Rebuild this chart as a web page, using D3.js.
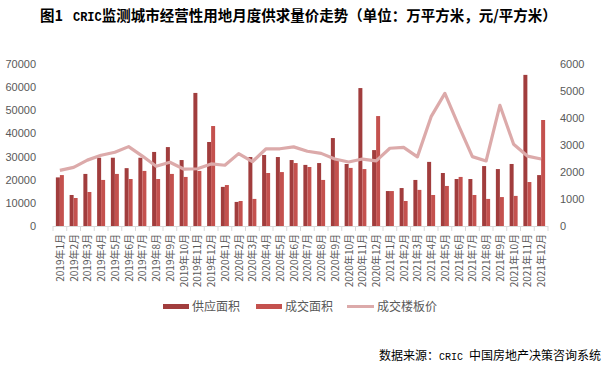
<!DOCTYPE html>
<html><head><meta charset="utf-8">
<script src="https://cdn.jsdelivr.net/npm/d3@7/dist/d3.min.js"></script>
<style>body{margin:0;background:#fff}svg{display:block}</style>
</head><body><svg id="c" width="608" height="374"></svg>
<script>
const months = [];
[2019,2020,2021].forEach(y=>{for(let m=1;m<=12;m++)months.push(y+"年"+m+"月");});
const supply = [21000,13400,22500,29500,29500,25000,29500,32000,34100,28500,57500,36300,
  16900,10400,29800,30700,29800,28500,26400,27200,38000,26800,59600,32800,
  15100,16400,19900,27700,22900,20300,20300,25900,24600,26800,65300,22000];
const deal = [22000,12100,14700,19900,22500,20300,23800,20300,22500,21200,23800,43200,
  17700,10800,11700,22900,23300,27200,25500,19900,28500,25100,24600,47500,
  15100,10800,15600,13400,17300,21200,13400,11700,12500,13000,19000,45800];
const price = [2060,2170,2440,2620,2730,2940,2590,2210,2360,2110,2120,2300,
  2250,2680,2380,2860,2860,2930,2770,2690,2480,2370,2480,2410,
  2880,2910,2560,4050,4910,3720,2570,2410,4470,3030,2590,2480];
const leftTicks = [0,10000,20000,30000,40000,50000,60000,70000];
const rightTicks = [0,1000,2000,3000,4000,5000,6000];
const legendNames = ["供应面积","成交面积","成交楼板价"];

const svg = d3.select("#c");
const L=53,R=548,T=64,B=226;
const x = d3.scaleBand().domain(months).range([L,R]);
const sub = d3.scaleBand().domain(["s","d"]).range([0,8]);
const yL = d3.scaleLinear().domain([0,70000]).range([B,T]);
const yR = d3.scaleLinear().domain([0,6000]).range([B,T]);
const cSup="#a13d3d", cDeal="#c4514e", cLine="#dcaaaa";
const off = (x.bandwidth()-8)/2;

const title = svg.append("text").attr("x",40).attr("y",21)
  .attr("font-family","'Noto Sans CJK SC'").attr("font-weight","bold").attr("font-size",14.5).attr("fill","#000");
title.append("tspan").text("图1\u00a0\u00a0\u00a0");
title.append("tspan").attr("font-family","'Liberation Mono'").attr("font-size",12).text("CRIC");
title.append("tspan").text("监测城市经营性用地月度供求量价走势（单位：万平方米，元/平方米）");

svg.append("g").selectAll("rect").data(months).join("rect")
  .attr("x",(d)=>x(d)+off+sub("s")).attr("width",sub.bandwidth())
  .attr("y",(d,i)=>yL(supply[i])).attr("height",(d,i)=>B-yL(supply[i])).attr("fill",cSup);
svg.append("g").selectAll("rect").data(months).join("rect")
  .attr("x",(d)=>x(d)+off+sub("d")).attr("width",sub.bandwidth())
  .attr("y",(d,i)=>yL(deal[i])).attr("height",(d,i)=>B-yL(deal[i])).attr("fill",cDeal);

svg.append("path").datum(price)
  .attr("d",d3.line().x((d,i)=>x(months[i])+x.bandwidth()/2).y(d=>yR(d)))
  .attr("fill","none").attr("stroke",cLine).attr("stroke-width",3.2).attr("stroke-linejoin","round");

// axes
const gx = svg.append("g");
gx.append("line").attr("x1",L).attr("x2",R).attr("y1",B+0.5).attr("y2",B+0.5).attr("stroke","#d9d9d9");
gx.selectAll("line.t").data(months.concat(["end"])).join("line").attr("class","t")
  .attr("x1",d=>d==="end"?R:x(d)).attr("x2",d=>d==="end"?R:x(d)).attr("y1",B).attr("y2",B+5).attr("stroke","#d9d9d9");
gx.selectAll("text").data(months).join("text")
  .attr("transform",d=>`translate(${x(d)+x.bandwidth()/2+4},${B+8}) rotate(-90)`)
  .attr("text-anchor","end").attr("font-family","'Noto Sans CJK SC'").attr("font-size",10).attr("fill","#595959")
  .text(d=>d);

svg.append("g").attr("transform",`translate(${L-14},0)`)
  .call(d3.axisLeft(yL).tickValues(leftTicks).tickSize(0).tickFormat(d3.format("d")))
  .call(g=>g.select(".domain").remove())
  .call(g=>g.selectAll("text").attr("font-family","'Liberation Sans'").attr("font-size",11).attr("fill","#595959"));
svg.append("g").attr("transform",`translate(${R+9},0)`)
  .call(d3.axisRight(yR).tickValues(rightTicks).tickSize(0).tickFormat(d3.format("d")))
  .call(g=>g.select(".domain").remove())
  .call(g=>g.selectAll("text").attr("font-family","'Liberation Sans'").attr("font-size",11).attr("fill","#595959"));

// legend
const lg = svg.append("g").attr("font-family","'Noto Sans CJK SC'").attr("font-size",12).attr("fill","#595959");
const lx=[163,256,347];
[cSup,cDeal].forEach((c,i)=>{
  lg.append("rect").attr("x",lx[i]).attr("y",304).attr("width",26).attr("height",5).attr("fill",c);
});
lg.append("line").attr("x1",lx[2]).attr("x2",lx[2]+27).attr("y1",306.5).attr("y2",306.5).attr("stroke",cLine).attr("stroke-width",3);
legendNames.forEach((n,i)=>{
  lg.append("text").attr("x",lx[i]+(i==2?30:29)).attr("y",311).text(n);
});

const src = svg.append("text").attr("x",601).attr("y",360).attr("text-anchor","end")
  .attr("font-family","'Noto Sans CJK SC'").attr("font-size",12).attr("fill","#000");
src.append("tspan").text("数据来源：");
src.append("tspan").attr("font-family","'Liberation Mono'").attr("font-size",10).text("CRIC ");
src.append("tspan").text("中国房地产决策咨询系统");
</script></body></html>
